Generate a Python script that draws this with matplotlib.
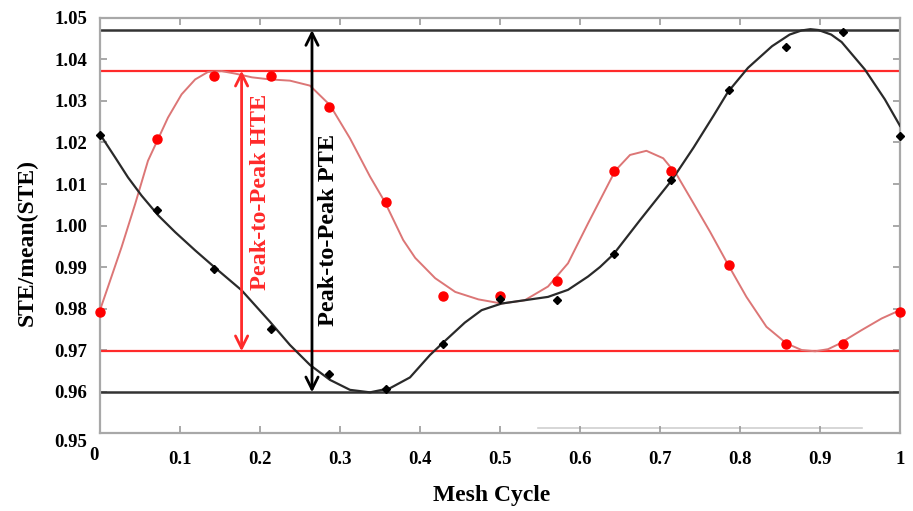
import matplotlib
matplotlib.use("Agg")
import matplotlib.pyplot as plt
from matplotlib.ticker import FixedLocator
from matplotlib.transforms import ScaledTranslation

plt.rcParams['font.family'] = ['Liberation Serif', 'DejaVu Serif']
plt.rcParams['font.weight'] = 'bold'

# Sampled transmission error over one mesh cycle
mesh_pos = [0.0, 0.071, 0.143, 0.214, 0.286, 0.357, 0.429, 0.5,
            0.571, 0.643, 0.714, 0.786, 0.857, 0.929, 1.0]
pte_pts = [1.0218, 1.0037, 0.9894, 0.9751, 0.9642, 0.9605, 0.9714, 0.9822,
           0.9820, 0.9931, 1.0110, 1.0327, 1.0431, 1.0467, 1.0216]
hte_pts = [0.9791, 1.0208, 1.0360, 1.0360, 1.0285, 1.0057, 0.9829, 0.9830,
           0.9867, 1.0132, 1.0132, 0.9905, 0.9714, 0.9714, 0.9791]

# Fitted curves
pte_fit_x = [0.0, 0.019, 0.035, 0.052, 0.073, 0.094, 0.119, 0.144, 0.177,
             0.2125, 0.2375, 0.2625, 0.2875, 0.3125, 0.3375, 0.3625, 0.3875,
             0.4125, 0.429, 0.456, 0.477, 0.502, 0.531, 0.56, 0.585, 0.61,
             0.625, 0.642, 0.675, 0.715, 0.742, 0.767, 0.785, 0.81, 0.84,
             0.862, 0.877, 0.888, 0.898, 0.914, 0.927, 0.956, 0.981, 1.0]
pte_fit_y = [1.0220, 1.0164, 1.0116, 1.0072, 1.0024, 0.9984, 0.9940, 0.9898,
             0.9844, 0.9768, 0.9712, 0.9664, 0.9628, 0.9604, 0.9598, 0.9608,
             0.9634, 0.9688, 0.9718, 0.9766, 0.9796, 0.9812, 0.9820, 0.9828,
             0.9845, 0.9877, 0.9900, 0.9931, 1.0013, 1.0110, 1.0188, 1.0265,
             1.0322, 1.0380, 1.0432, 1.0460, 1.0470, 1.0473, 1.0471, 1.0460,
             1.0442, 1.0376, 1.0304, 1.0240]
hte_fit_x = [0.0, 0.010, 0.027, 0.044, 0.060, 0.073, 0.085, 0.102, 0.119,
             0.135, 0.152, 0.169, 0.19, 0.2125, 0.2375, 0.2625, 0.2875,
             0.3125, 0.3375, 0.356, 0.379, 0.394, 0.419, 0.444, 0.473, 0.502,
             0.531, 0.56, 0.585, 0.61, 0.625, 0.644, 0.6625, 0.683, 0.704,
             0.721, 0.742, 0.7625, 0.785, 0.808, 0.833, 0.858, 0.877, 0.894,
             0.91, 0.923, 0.952, 0.977, 1.0]
hte_fit_y = [0.9796, 0.9852, 0.9948, 1.0052, 1.0156, 1.0210, 1.0260, 1.0316,
             1.0352, 1.0370, 1.0372, 1.0366, 1.0357, 1.0352, 1.0349, 1.0337,
             1.0290, 1.0210, 1.0118, 1.0057, 0.9965, 0.9922, 0.9873, 0.9840,
             0.9822, 0.9812, 0.9820, 0.9853, 0.9909, 1.0005, 1.0061, 1.0132,
             1.0170, 1.0180, 1.0162, 1.0122, 1.0053, 0.9985, 0.9906, 0.9828,
             0.9756, 0.9716, 0.9700, 0.9697, 0.9702, 0.9714, 0.9748, 0.9776,
             0.9796]

# Peak levels
pte_max, pte_min = 1.0471, 0.9598
hte_max, hte_min = 1.0373, 0.9697

x_ticks = [0, 0.1, 0.2, 0.3, 0.4, 0.5, 0.6, 0.7, 0.8, 0.9, 1]
x_tick_labels = ['0', '0.1', '0.2', '0.3', '0.4', '0.5', '0.6', '0.7', '0.8', '0.9', '1']
y_ticks = [0.95, 0.96, 0.97, 0.98, 0.99, 1.00, 1.01, 1.02, 1.03, 1.04, 1.05]
y_tick_labels = ['0.95', '0.96', '0.97', '0.98', '0.99', '1.00', '1.01', '1.02', '1.03', '1.04', '1.05']

red = '#ff2a2a'
dark = '#333333'

fig = plt.figure(figsize=(9.13, 5.11), dpi=100)
ax = fig.add_axes([0.1095, 0.1526, 0.8763, 0.8122])
ax.set_xlim(0, 1)
ax.set_ylim(0.95, 1.05)

# thin gray guide line near the bottom
ax.plot([0.5475, 0.9525], [0.9513, 0.9513], color='#d0d0d0', lw=1.2, zorder=1)

# peak-level lines
ax.axhline(pte_max, color=dark, lw=1.8, zorder=2)
ax.axhline(pte_min, color=dark, lw=1.8, zorder=2)
ax.axhline(hte_max, color=red, lw=1.6, zorder=2)
ax.axhline(hte_min, color=red, lw=1.6, zorder=2)

# fitted curves
ax.plot(hte_fit_x, hte_fit_y, color='#dc7676', lw=1.4, zorder=3,
        solid_joinstyle='round')
ax.plot(pte_fit_x, pte_fit_y, color='#2a2a2a', lw=1.6, zorder=3,
        solid_joinstyle='round')

# sampled points
ax.plot(mesh_pos, hte_pts, 'o', color='#ff0000', ms=6.5, mec='#ff0000',
        zorder=5, clip_on=False)
ax.plot(mesh_pos, pte_pts, 'D', color='black', ms=4.5, zorder=6, clip_on=False)

# peak-to-peak arrows
arrow_kw = dict(arrowstyle='<->', lw=2.0, mutation_scale=22,
                shrinkA=0, shrinkB=0)
ax.annotate('', xy=(0.177, hte_max), xytext=(0.177, hte_min),
            arrowprops=dict(color=red, **arrow_kw), zorder=7)
ax.annotate('', xy=(0.265, pte_max), xytext=(0.265, pte_min),
            arrowprops=dict(color='black', **arrow_kw), zorder=7)
ax.text(0.201, 1.0082, 'Peak-to-Peak HTE', rotation=90, color=red,
        fontsize=17.5, fontweight='bold', ha='center', va='center')
ax.text(0.286, 0.9990, 'Peak-to-Peak PTE', rotation=90, color='black',
        fontsize=17.5, fontweight='bold', ha='center', va='center')

# axes styling
for s in ax.spines.values():
    s.set_color('#a8a8a8')
    s.set_linewidth(1.6)

ax.xaxis.set_major_locator(FixedLocator(x_ticks))
ax.set_xticklabels(x_tick_labels)
ax.yaxis.set_major_locator(FixedLocator(y_ticks))
ax.set_yticklabels(y_tick_labels)
ax.tick_params(axis='x', direction='in', length=5, width=1.2, color='#999999',
               top=True, labelsize=13.5, pad=13)
ax.tick_params(axis='y', direction='in', length=5, width=1.2, color='#999999',
               right=True, labelsize=13.5, pad=9)
for lab in ax.get_xticklabels() + ax.get_yticklabels():
    lab.set_fontweight('bold')

# nudge the two corner labels apart
xl0 = ax.get_xticklabels()[0]
xl0.set_transform(xl0.get_transform() + ScaledTranslation(-0.06, 0.04, fig.dpi_scale_trans))
yl0 = ax.get_yticklabels()[0]
yl0.set_transform(yl0.get_transform() + ScaledTranslation(0, -0.07, fig.dpi_scale_trans))

ax.set_xlabel('Mesh Cycle', fontsize=17, fontweight='bold')
ax.set_ylabel('STE/mean(STE)', fontsize=17, fontweight='bold')
ax.xaxis.set_label_coords(0.49, -0.125)
ax.yaxis.set_label_coords(-0.078, 0.458)

fig.savefig('out.png', dpi=100)
